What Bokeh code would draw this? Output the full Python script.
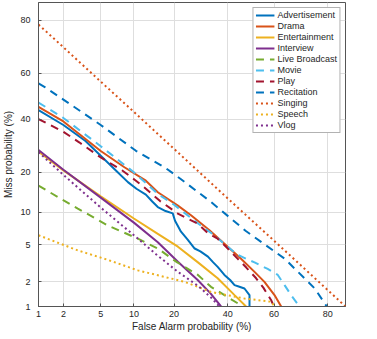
from statistics import NormalDist
from bokeh.plotting import figure
from bokeh.models import Range1d, FixedTicker, CustomJSTickFormatter
from bokeh.embed import file_html
from bokeh.resources import INLINE

# ---------------- data (percent) ----------------
tick_values = [1, 2, 5, 10, 20, 40, 60, 80]
tick_labels = ["1", "2", "5", "10", "20", "40", "60", "80"]
axis_limits = [1, 85]

names = ["Advertisement", "Drama", "Entertainment", "Interview", "Live Broadcast",
         "Movie", "Play", "Recitation", "Singing", "Speech", "Vlog"]

fa_advertisement = [1, 2, 3.5, 5, 7, 8.9, 10.5, 12.5, 14, 15.4, 17.5, 19.6, 20.3, 22.2, 24.5,
                    26.9, 29, 31.9, 34, 35.8, 38.6, 41, 42.9, 45, 47.2, 49.4, 49.4]
miss_advertisement = [43.9, 37.5, 31, 25.5, 20.5, 17.1, 15.3, 13.8, 12.2, 11.0, 10.2, 9.75, 8.4, 6.7, 5.6,
                      4.6, 4.3, 3.8, 3.3, 2.95, 2.4, 2.1, 1.83, 1.75, 1.67, 1.39, 1.0]

fa_drama = [1, 2, 5, 8.3, 12.5, 15.4, 21.2, 25.6, 32.5, 40, 45.7, 51.6, 55.9, 60.2, 63]
miss_drama = [45.3, 39, 27.2, 21.6, 17.5, 14.4, 11.3, 9.4, 6.9, 4.8, 3.6, 2.6, 2.0, 1.39, 1.0]

fa_entertainment = [1, 2, 5, 10, 15.4, 21.2, 28.1, 35.8, 42.9, 47.9]
miss_entertainment = [27.0, 20.6, 13.4, 8.8, 6.4, 4.8, 3.3, 2.2, 1.39, 1.0]

fa_interview = [1, 2, 5, 10, 15.4, 21.2, 28, 33, 37.2]
miss_interview = [27.6, 20.8, 13.1, 8.1, 5.3, 3.35, 2.1, 1.45, 1.0]

fa_live = [1, 2.9, 5.9, 10.8, 15.4, 21, 28.1, 33.1, 38.6, 46.5]
miss_live = [16.1, 10.7, 7.6, 5.75, 4.6, 3.3, 2.4, 1.75, 1.39, 1.0]

fa_movie = [1, 2, 5, 10, 15.4, 20, 28, 34, 40, 44, 48, 51.6, 57.3, 61.6, 64.4, 67, 70.3]
miss_movie = [47.2, 40.5, 29.0, 20.0, 14.0, 11.5, 8.0, 6.3, 4.8, 4.0, 3.6, 3.3, 2.8, 2.4, 1.83, 1.39, 1.0]

fa_play = [1, 2, 3, 5, 8, 10.4, 12.5, 16, 21.2, 28.1, 31.9, 35.8, 40, 44.3, 48, 52.3, 55.5, 58.8, 60]
miss_play = [40, 34.7, 30.5, 24.9, 20.5, 17.5, 15.3, 12.3, 9.7, 7.9, 6.5, 5.75, 4.6, 3.6, 2.9, 2.2, 1.7, 1.2, 1.0]

fa_recitation = [1, 1.2, 2, 5, 10.4, 17.2, 22.1, 33.1, 47.8, 64.5, 75.8, 79.7]
miss_recitation = [55.6, 54, 48.5, 37.5, 27.3, 21.6, 18.0, 12.1, 6.8, 3.6, 1.67, 1.0]

fa_singing = [1, 2, 5, 10, 20, 40, 60, 80, 85]
miss_singing = [78.6, 70.6, 56.4, 43.1, 28.0, 12.9, 5.5, 1.6, 1.0]

fa_speech = [1, 2.9, 5.9, 10.8, 23.4, 33.1, 47.2, 58.8, 60.3]
miss_speech = [6.2, 4.4, 3.5, 2.7, 2.0, 1.52, 1.26, 1.15, 1.0]

fa_vlog = [1, 2, 5, 10, 15, 21.2, 28.1, 33.1, 36.5]
miss_vlog = [26.8, 19.2, 10.9, 6.2, 4.0, 2.6, 1.8, 1.3, 1.0]

# ---------------- styles ----------------
colors = ["#0072BD", "#D95319", "#EDB120", "#7E2F8E", "#77AC30",
          "#4DBEEE", "#A2142F", "#0072BD", "#D95319", "#EDB120", "#7E2F8E"]
dashes = ["solid", "solid", "solid", "solid", "8 6",
          "8 6", "8 6", "8 6", "2 3", "2 3", "2 3"]
fa_all = [fa_advertisement, fa_drama, fa_entertainment, fa_interview, fa_live,
          fa_movie, fa_play, fa_recitation, fa_singing, fa_speech, fa_vlog]
miss_all = [miss_advertisement, miss_drama, miss_entertainment, miss_interview, miss_live,
            miss_movie, miss_play, miss_recitation, miss_singing, miss_speech, miss_vlog]

_nd = NormalDist()


def probit(pct):
    return [_nd.inv_cdf(v / 100.0) for v in pct]


FONT = "Liberation Sans"
TXT = "#262626"

lims = probit(axis_limits)
p = figure(frame_width=307, frame_height=304,
           x_range=Range1d(lims[0], lims[1]), y_range=Range1d(lims[0], lims[1]),
           output_backend="svg", toolbar_location=None,
           min_border_left=33, min_border_right=21, min_border_top=2, min_border_bottom=0)
p.background_fill_color = "white"
p.border_fill_color = "white"
p.outline_line_color = "#555555"
p.outline_line_width = 1

ticker = FixedTicker(ticks=probit(tick_values))
fmt_code = """
let best = 0; let d = 1e9;
for (let i = 0; i < tvals.length; i++) {
  const dd = Math.abs(tvals[i] - tick);
  if (dd < d) { d = dd; best = i; }
}
return tlabels[best];
"""
formatter = CustomJSTickFormatter(args=dict(tvals=probit(tick_values), tlabels=tick_labels), code=fmt_code)

for ax in (p.xaxis[0], p.yaxis[0]):
    ax.ticker = ticker
    ax.formatter = formatter
    ax.major_tick_in = 3
    ax.major_tick_out = 0
    ax.minor_tick_in = 0
    ax.minor_tick_out = 0
    ax.axis_line_color = "#555555"
    ax.major_tick_line_color = "#555555"
    ax.major_label_text_font = FONT
    ax.major_label_text_font_size = "9px"
    ax.major_label_text_color = TXT
    ax.axis_label_text_font = FONT
    ax.axis_label_text_font_size = "10px"
    ax.axis_label_text_font_style = "normal"
    ax.axis_label_text_color = TXT

p.xaxis.axis_label = "False Alarm probability (%)"
p.yaxis.axis_label = "Miss probability (%)"
p.xaxis.major_label_standoff = 4
p.xaxis.axis_label_standoff = 1
p.yaxis.major_label_standoff = 8
p.yaxis.axis_label_standoff = 3

p.xgrid.ticker = ticker
p.ygrid.ticker = ticker
p.xgrid.grid_line_color = "#dedede"
p.ygrid.grid_line_color = "#dedede"

for name, fa, miss, c, d in zip(names, fa_all, miss_all, colors, dashes):
    p.line(probit(fa), probit(miss), line_color=c, line_width=2, line_dash=d,
           legend_label=name)

lg = p.legend[0]
lg.location = "top_right"
lg.margin = 5
lg.padding = 2
lg.spacing = 1
lg.glyph_width = 19
lg.glyph_height = 10
lg.label_height = 10
lg.label_standoff = 3
lg.label_text_font = FONT
lg.label_text_font_size = "9px"
lg.label_text_color = TXT
lg.border_line_color = "#666666"
lg.border_line_width = 1
lg.background_fill_alpha = 1.0

open("out.html", "w").write(file_html(p, INLINE))
